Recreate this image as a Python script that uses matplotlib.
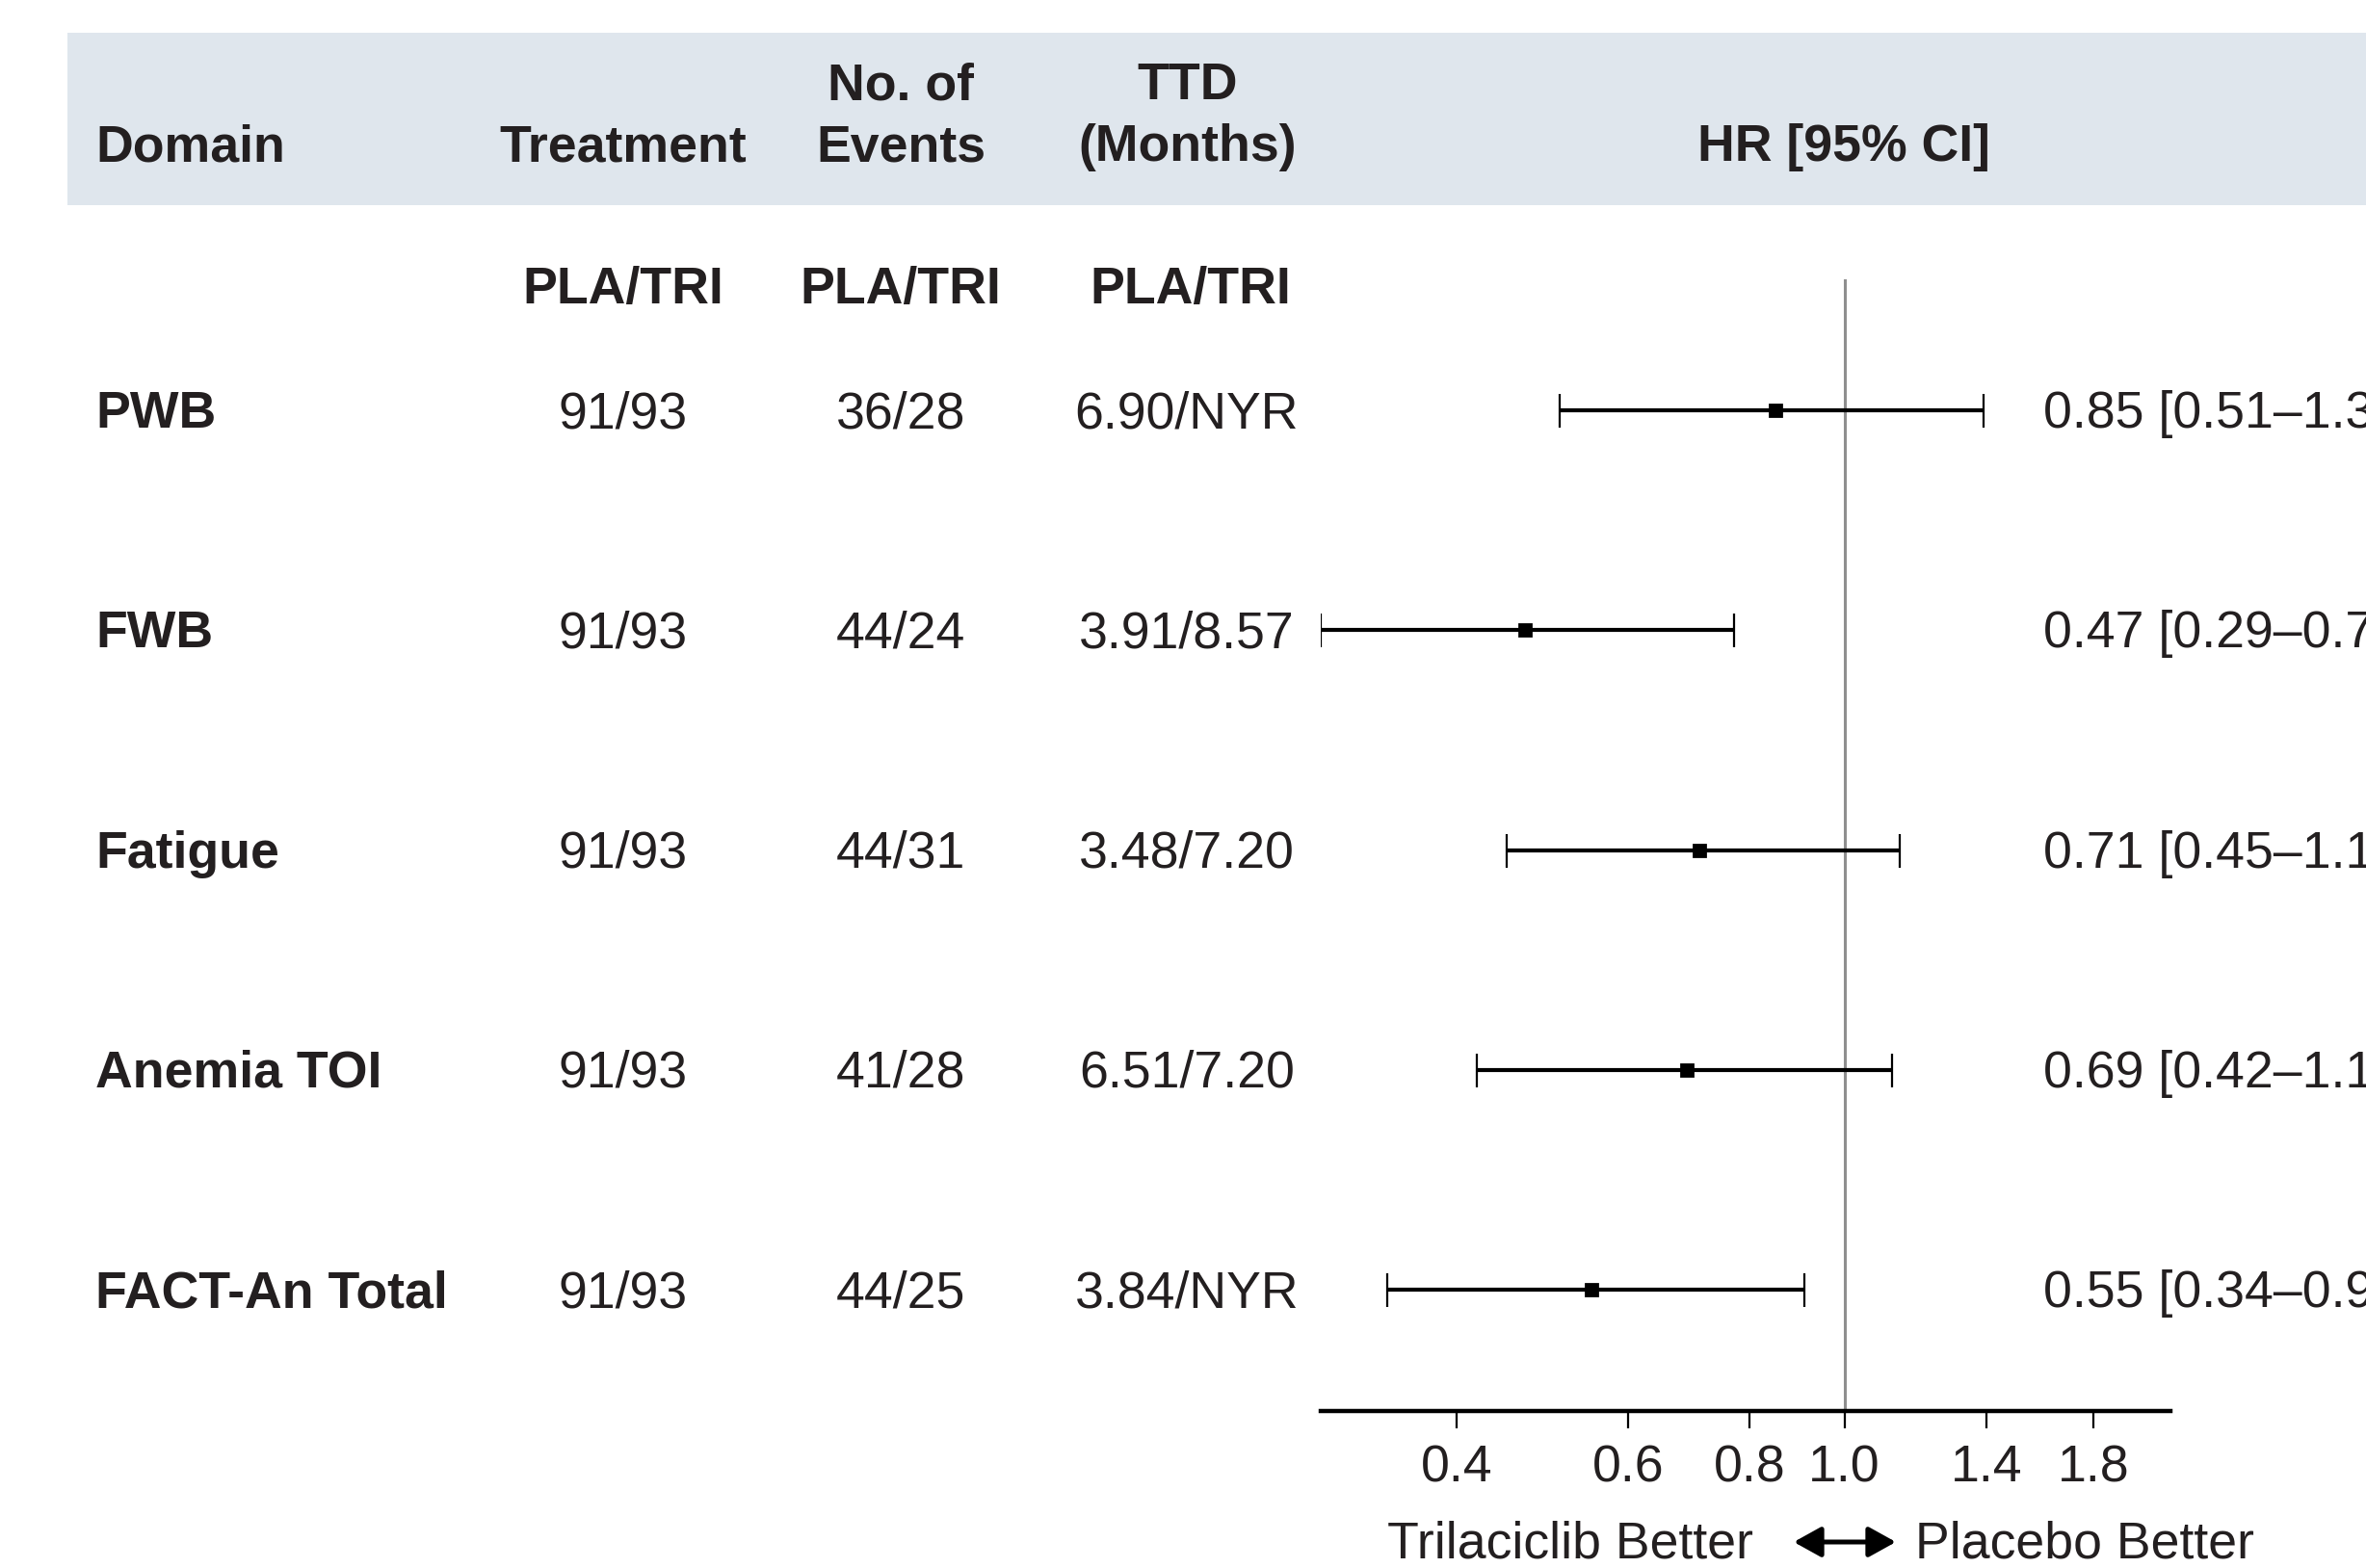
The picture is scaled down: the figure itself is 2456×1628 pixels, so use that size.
import matplotlib.pyplot as plt
from matplotlib.patches import Rectangle, FancyArrowPatch
from matplotlib.transforms import blended_transform_factory

plt.rcParams['font.family'] = ['Liberation Sans', 'DejaVu Sans']

# data
domains = ['PWB', 'FWB', 'Fatigue', 'Anemia TOI', 'FACT-An Total']
treatment = ['91/93', '91/93', '91/93', '91/93', '91/93']
events = ['36/28', '44/24', '44/31', '41/28', '44/25']
ttd = ['6.90/NYR', '3.91/8.57', '3.48/7.20', '6.51/7.20', '3.84/NYR']
hr = [0.85, 0.47, 0.71, 0.69, 0.55]
ci_lo = [0.51, 0.29, 0.45, 0.42, 0.34]
ci_hi = [1.39, 0.77, 1.14, 1.12, 0.91]
tick_vals = [0.4, 0.6, 0.8, 1.0, 1.4, 1.8]

W, H = 2456, 1628
DPI = 200
txt_col = '#231f20'
fs = 19.3
dy = 4  # small downward nudge for text, in pixels


def fx(px):
    return px / W


def fy(py):
    return 1 - (py + dy) / H


fig = plt.figure(figsize=(W / DPI, H / DPI), dpi=DPI)

# header band
fig.patches.append(Rectangle((fx(70), 1 - 213 / H), 1 - fx(70), (213 - 34) / H,
                             transform=fig.transFigure, facecolor='#dfe6ed',
                             edgecolor='none', zorder=0))

# forest axes
ax = fig.add_axes([fx(1370.5), 1 - 1464.5 / H, fx(2253) - fx(1370.5), (1464.5 - 290) / H])
rows = list(range(len(domains)))
ax.set_xscale('log')
ax.set_xlim(0.29, 2.16)
ax.set_ylim(4.549, -0.596)
ax.axvline(1.0, color='#8f8f8f', lw=1.1, zorder=1)

xerr = [[h - l for h, l in zip(hr, ci_lo)], [u - h for h, u in zip(hr, ci_hi)]]
ax.errorbar(hr, rows, xerr=xerr, fmt='s', color='black', ms=4, elinewidth=1.5,
            capsize=6.3, capthick=0.8, zorder=3)

for s in ['left', 'top', 'right']:
    ax.spines[s].set_visible(False)
ax.spines['bottom'].set_linewidth(1.6)
ax.set_yticks([])
ax.set_xticks(tick_vals)
ax.set_xticklabels([f'{v:.1f}' for v in tick_vals])
ax.minorticks_off()
ax.tick_params(axis='x', length=6.5, width=0.8, pad=6, labelsize=fs,
               labelcolor=txt_col)
ax.set_facecolor('none')

# header texts
bold = dict(fontsize=fs, fontweight='bold', color=txt_col, va='center')
fig.text(fx(99), fy(149), 'Domain', ha='left', **bold)
fig.text(fx(647), fy(149), 'Treatment', ha='center', **bold)
fig.text(fx(935), fy(85), 'No. of', ha='center', **bold)
fig.text(fx(935), fy(149), 'Events', ha='center', **bold)
fig.text(fx(1233), fy(85), 'TTD', ha='center', **bold)
fig.text(fx(1233), fy(149), '(Months)', ha='center', **bold)
fig.text(fx(1914), fy(149), 'HR [95% CI]', ha='center', **bold)
for x in [647, 935, 1236]:
    fig.text(fx(x), fy(297), 'PLA/TRI', ha='center', **bold)

# table rows
tr = blended_transform_factory(fig.transFigure, ax.transData)
off = dy / 228.3
norm = dict(fontsize=fs, color=txt_col, va='center', transform=tr)
for i in rows:
    y = i + off
    fig.text(fx(99), y, domains[i], ha='left', fontsize=fs, fontweight='bold',
             color=txt_col, va='center', transform=tr)
    fig.text(fx(647), y, treatment[i], ha='center', **norm)
    fig.text(fx(935), y, events[i], ha='center', **norm)
    fig.text(fx(1232), y, ttd[i], ha='center', **norm)
    fig.text(fx(2121), y, f'{hr[i]:.2f} [{ci_lo[i]:.2f}\u2013{ci_hi[i]:.2f}]',
             ha='left', **norm)

# direction labels
fig.text(fx(1820), fy(1599), 'Trilaciclib Better', ha='right', va='center',
         fontsize=fs, color=txt_col)
fig.text(fx(1988), fy(1599), 'Placebo Better', ha='left', va='center',
         fontsize=fs, color=txt_col)
fig.add_artist(FancyArrowPatch(
    (fx(1862), fy(1597)), (fx(1968), fy(1597)), transform=fig.transFigure,
    arrowstyle='<|-|>,head_length=5.4,head_width=3.0', mutation_scale=1.6,
    shrinkA=0, shrinkB=0, color='black', lw=1.8))

fig.savefig('out.png', dpi=DPI)
